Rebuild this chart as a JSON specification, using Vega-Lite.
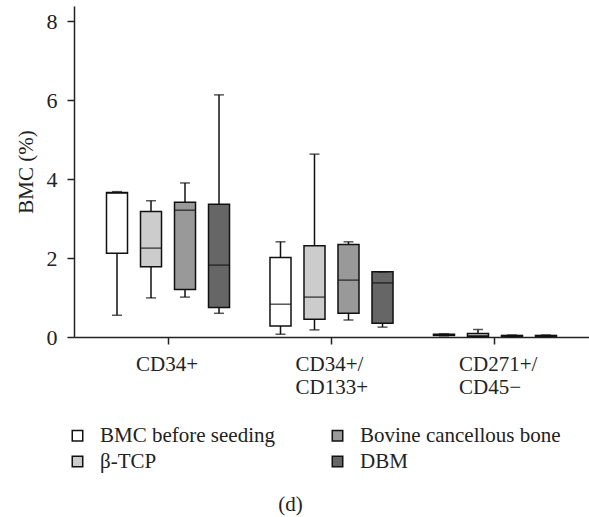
{
  "$schema": "https://vega.github.io/schema/vega-lite/v6.json",
  "width": 515,
  "height": 331,
  "autosize": {"type": "none"},
  "padding": {"left": 74, "top": 6, "right": 0, "bottom": 180},
  "title": {"text": "(d)", "orient": "bottom", "anchor": "middle", "fontSize": 21, "fontWeight": "normal", "font": "Liberation Serif", "color": "#222", "offset": 22, "dx": -41},
  "config": {
    "view": {"stroke": null},
    "font": "Liberation Serif",
    "axis": {"domainColor": "#222", "domainWidth": 1.5, "tickColor": "#222", "tickWidth": 1.5, "labelColor": "#222", "titleColor": "#222", "labelFont": "Liberation Serif", "titleFont": "Liberation Serif", "labelFontSize": 21, "titleFontSize": 21, "titleFontWeight": "normal", "grid": false}
  },
  "data": {
    "values": [
      {"group": "CD34+", "series": "BMC before seeding", "min": 0.55, "q1": 2.12, "median": 3.64, "q3": 3.66, "max": 3.68},
      {"group": "CD34+", "series": "β-TCP", "min": 0.99, "q1": 1.78, "median": 2.25, "q3": 3.18, "max": 3.45},
      {"group": "CD34+", "series": "Bovine cancellous bone", "min": 1.01, "q1": 1.2, "median": 3.21, "q3": 3.41, "max": 3.9},
      {"group": "CD34+", "series": "DBM", "min": 0.6, "q1": 0.75, "median": 1.82, "q3": 3.36, "max": 6.13},
      {"group": "CD34+/CD133+", "series": "BMC before seeding", "min": 0.07, "q1": 0.28, "median": 0.83, "q3": 2.01, "max": 2.41},
      {"group": "CD34+/CD133+", "series": "β-TCP", "min": 0.18, "q1": 0.45, "median": 1.01, "q3": 2.31, "max": 4.63},
      {"group": "CD34+/CD133+", "series": "Bovine cancellous bone", "min": 0.43, "q1": 0.6, "median": 1.44, "q3": 2.34, "max": 2.41},
      {"group": "CD34+/CD133+", "series": "DBM", "min": 0.25, "q1": 0.35, "median": 1.37, "q3": 1.65, "max": 1.65},
      {"group": "CD271+/CD45−", "series": "BMC before seeding", "min": 0.03, "q1": 0.04, "median": 0.05, "q3": 0.07, "max": 0.08},
      {"group": "CD271+/CD45−", "series": "β-TCP", "min": 0.0, "q1": 0.01, "median": 0.03, "q3": 0.09, "max": 0.19},
      {"group": "CD271+/CD45−", "series": "Bovine cancellous bone", "min": 0.01, "q1": 0.02, "median": 0.03, "q3": 0.04, "max": 0.05},
      {"group": "CD271+/CD45−", "series": "DBM", "min": 0.01, "q1": 0.02, "median": 0.03, "q3": 0.04, "max": 0.05}
    ]
  },
  "encoding": {
    "x": {
      "field": "group", "type": "nominal",
      "sort": ["CD34+", "CD34+/CD133+", "CD271+/CD45−"],
      "scale": {"paddingInner": 0, "paddingOuter": 0.075},
      "axis": {
        "title": null, "labelAngle": 0, "tickSize": 7, "labelPadding": 9, "labelLineHeight": 23,
        "labelAlign": "left",
        "labelOffset": {"condition": {"test": "datum.value == 'CD34+'", "value": -32}, "value": -36},
        "labelExpr": "indexof(datum.label, '/') > 0 ? [slice(datum.label, 0, indexof(datum.label, '/') + 1), slice(datum.label, indexof(datum.label, '/') + 1)] : datum.label"
      }
    },
    "xOffset": {
      "field": "series", "type": "nominal",
      "sort": ["BMC before seeding", "β-TCP", "Bovine cancellous bone", "DBM"],
      "scale": {"paddingInner": 0.382, "paddingOuter": 0.595}
    }
  },
  "layer": [
    {
      "mark": {"type": "rule", "color": "#111", "strokeWidth": 1.5},
      "encoding": {
        "y": {"field": "min", "type": "quantitative", "scale": {"domain": [0, 8.38], "nice": false}, "axis": {"values": [0, 2, 4, 6, 8], "tickSize": 7, "labelPadding": 10, "labelFontSize": 22, "title": "BMC (%)", "titlePadding": 10}},
        "y2": {"field": "max"}
      }
    },
    {
      "mark": {"type": "bar", "stroke": "#111", "strokeWidth": 1.5},
      "encoding": {
        "y": {"field": "q1", "type": "quantitative"},
        "y2": {"field": "q3"},
        "fill": {
          "field": "series", "type": "nominal",
          "scale": {"domain": ["BMC before seeding", "β-TCP", "Bovine cancellous bone", "DBM"], "range": ["#ffffff", "#cccccc", "#999999", "#666666"]},
          "legend": {
            "title": null, "orient": "none", "direction": "vertical", "legendX": -7, "legendY": 419, "columns": 2, "columnPadding": 52, "rowPadding": 4,
            "symbolType": "square", "symbolSize": 110, "symbolStrokeColor": "#111", "symbolStrokeWidth": 1.5,
            "labelFontSize": 21, "labelFont": "Liberation Serif", "labelColor": "#222", "labelOffset": 12, "labelLimit": 300
          }
        }
      }
    },
    {
      "mark": {"type": "tick", "color": "#111", "thickness": 1.5, "size": 21},
      "encoding": {"y": {"field": "median", "type": "quantitative"}}
    },
    {
      "mark": {"type": "tick", "color": "#111", "thickness": 1.5, "size": 10},
      "encoding": {"y": {"field": "min", "type": "quantitative"}}
    },
    {
      "mark": {"type": "tick", "color": "#111", "thickness": 1.5, "size": 10},
      "encoding": {"y": {"field": "max", "type": "quantitative"}}
    }
  ]
}
